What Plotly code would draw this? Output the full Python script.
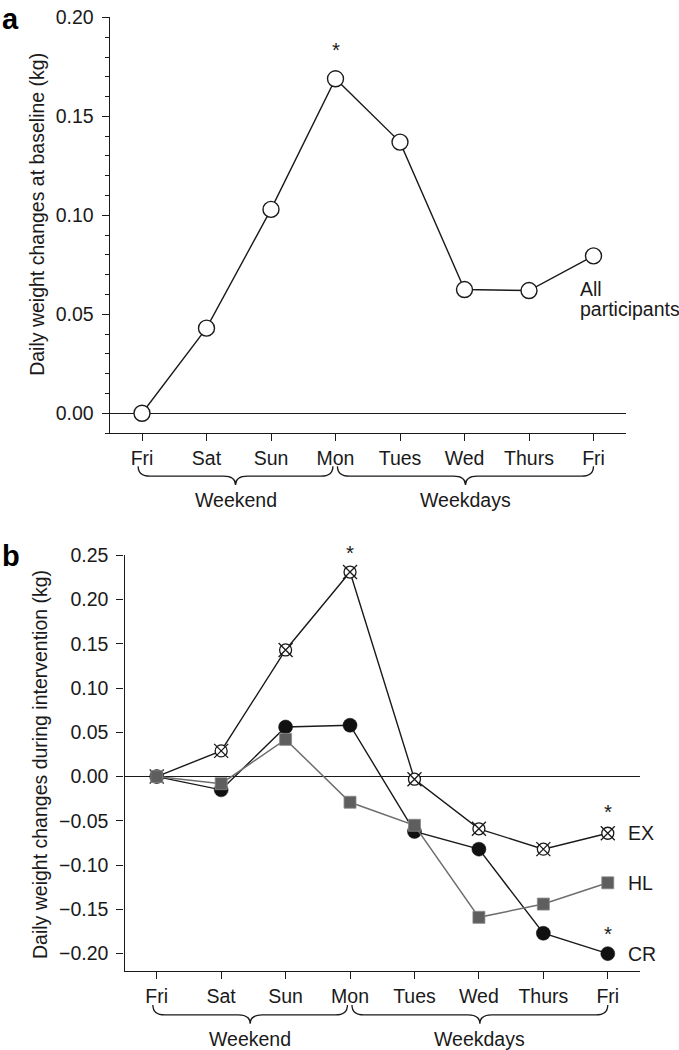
import plotly.graph_objects as go

# ---------------- data ----------------
days = ["Fri", "Sat", "Sun", "Mon", "Tues", "Wed", "Thurs", "Fri"]
all_participants = [0.000, 0.043, 0.103, 0.169, 0.137, 0.0625, 0.062, 0.0795]
ex_vals = [0.000, 0.029, 0.143, 0.231, -0.003, -0.059, -0.082, -0.064]
cr_vals = [0.000, -0.015, 0.056, 0.058, -0.062, -0.082, -0.177, -0.200]
hl_vals = [0.000, -0.008, 0.042, -0.029, -0.055, -0.159, -0.144, -0.120]
yticks_a = [0.00, 0.05, 0.10, 0.15, 0.20]
yticks_b = [-0.20, -0.15, -0.10, -0.05, 0.00, 0.05, 0.10, 0.15, 0.20, 0.25]
groups = [("Weekend", 0, 3), ("Weekdays", 3, 7)]

W, H = 679, 1050
FONT = "Liberation Sans, Arial, Helvetica, sans-serif"
INK = "#1a1a1a"
FS = 19.5


def px(x):
    return x / W


def py(y):
    return 1 - y / H


idx = list(range(len(days)))
XR = [-0.5, len(days) - 0.5]

fig = go.Figure()

# ---- panel a ----
fig.add_trace(go.Scatter(
    x=idx, y=all_participants, mode="lines+markers", xaxis="x", yaxis="y",
    line=dict(color=INK, width=1.4),
    marker=dict(symbol="circle", size=16, color="white", line=dict(color=INK, width=1.4)),
    showlegend=False, cliponaxis=False))

# ---- panel b ----
fig.add_trace(go.Scatter(
    x=idx, y=ex_vals, mode="lines+markers", xaxis="x2", yaxis="y2",
    line=dict(color=INK, width=1.4),
    marker=dict(symbol="circle", size=12, color="white", line=dict(color=INK, width=1.3)),
    showlegend=False, cliponaxis=False))
fig.add_trace(go.Scatter(
    x=idx, y=ex_vals, mode="markers", xaxis="x2", yaxis="y2",
    marker=dict(symbol="x-thin-open", size=14, color=INK, line=dict(color=INK, width=1.3)),
    showlegend=False, cliponaxis=False))
fig.add_trace(go.Scatter(
    x=idx, y=cr_vals, mode="lines+markers", xaxis="x2", yaxis="y2",
    line=dict(color=INK, width=1.4),
    marker=dict(symbol="circle", size=14, color="#111111", line=dict(color="#111111", width=0.5)),
    showlegend=False, cliponaxis=False))
fig.add_trace(go.Scatter(
    x=idx, y=hl_vals, mode="lines+markers", xaxis="x2", yaxis="y2",
    line=dict(color="#6e6e6e", width=1.5),
    marker=dict(symbol="square", size=12, color="#5e5e5e", line=dict(color="#8a8a8a", width=0.8)),
    showlegend=False, cliponaxis=False))

axis_common = dict(showline=True, linecolor=INK, linewidth=1.3, showgrid=False,
                   ticks="outside", ticklen=7, tickwidth=1.3, tickcolor=INK,
                   tickfont=dict(family=FONT, size=FS, color=INK))

fig.update_layout(
    width=W, height=H, margin=dict(l=0, r=0, t=0, b=0),
    paper_bgcolor="white", plot_bgcolor="white",
    font=dict(family=FONT, size=FS, color=INK),
    xaxis=dict(domain=[px(109.75), px(625.75)], range=XR, anchor="y",
               tickvals=idx, ticktext=days, zeroline=False, **axis_common),
    yaxis=dict(domain=[py(426.5), py(6.5)], range=[-0.01, 0.20], anchor="x",
               tickvals=yticks_a, tickformat=".2f", ticklabelstandoff=4,
               zeroline=True, zerolinecolor=INK, zerolinewidth=1.3,
               minor=dict(ticks="outside", ticklen=4, tickwidth=1.2, tickcolor=INK,
                          dtick=0.01, tick0=0, showgrid=False),
               **axis_common),
    xaxis2=dict(domain=[px(124.5), px(640)], range=XR, anchor="y2",
                tickvals=idx, ticktext=days, zeroline=False, **axis_common),
    yaxis2=dict(domain=[py(970.5), py(550)], range=[-0.22, 0.25], anchor="x2",
                tickvals=yticks_b, tickformat=".2f", ticklabelstandoff=4,
                zeroline=True, zerolinecolor=INK, zerolinewidth=1.3,
                **axis_common),
)


def frac(i):
    return (i - XR[0]) / (XR[1] - XR[0])


def brace(xref, i0, i1, ytop, ymid, ytip, dom_w):
    x0, x1 = frac(i0), frac(i1)
    xc = (x0 + x1) / 2
    r = 12.0 / dom_w
    yt, ym, yp = py(ytop), py(ymid), py(ytip)
    path = (f"M {x0},{yt} Q {x0},{ym} {x0 + r},{ym} L {xc - r},{ym} "
            f"Q {xc},{ym} {xc},{yp} Q {xc},{ym} {xc + r},{ym} "
            f"L {x1 - r},{ym} Q {x1},{ym} {x1},{yt}")
    return dict(type="path", path=path, xref=xref, yref="paper",
                line=dict(color=INK, width=1.3))


shapes = []
annotations = []
for (xr, axis_y, dom_w) in [("x", 426.0, 516.0), ("x2", 970.5, 515.5)]:
    for k, (name, a, b) in enumerate(groups):
        i0 = a - 0.06 if k == 0 else a + 0.03
        i1 = b - 0.04 if k == 0 else b
        shapes.append(brace(xr + " domain", i0, i1, axis_y + 34, axis_y + 44, axis_y + 53, dom_w))
        annotations.append(dict(text=name, x=(i0 + i1) / 2, xref=xr, y=py(axis_y + 68), yref="paper",
                                showarrow=False, xanchor="center", yanchor="middle",
                                font=dict(family=FONT, size=FS, color=INK)))

# significance asterisks
for xr, yr, i, vals, shift in [("x", "y", 3, all_participants, 29),
                               ("x2", "y2", 3, ex_vals, 20),
                               ("x2", "y2", 7, ex_vals, 22),
                               ("x2", "y2", 7, cr_vals, 20)]:
    annotations.append(dict(text="*", x=i, y=vals[i], xref=xr, yref=yr, yshift=shift,
                            showarrow=False, xanchor="center", yanchor="middle",
                            font=dict(family=FONT, size=FS + 1, color=INK)))

# series labels
for label, vals in [("EX", ex_vals), ("HL", hl_vals), ("CR", cr_vals)]:
    annotations.append(dict(text=label, x=7, y=vals[7], xref="x2", yref="y2", xshift=18,
                            showarrow=False, xanchor="left", yanchor="middle",
                            font=dict(family=FONT, size=FS, color=INK)))

annotations.append(dict(text="All", x=px(578), y=py(281), xref="paper", yref="paper",
                        showarrow=False, xanchor="left", yanchor="middle",
                        font=dict(family=FONT, size=FS, color=INK)))
annotations.append(dict(text="participants", x=px(578), y=py(301), xref="paper", yref="paper",
                        showarrow=False, xanchor="left", yanchor="middle",
                        font=dict(family=FONT, size=FS, color=INK)))

# axis titles
annotations.append(dict(text="Daily weight changes at baseline (kg)", x=px(37), y=py(206),
                        xref="paper", yref="paper", textangle=-90, showarrow=False,
                        xanchor="center", yanchor="middle",
                        font=dict(family=FONT, size=FS, color=INK)))
annotations.append(dict(text="Daily weight changes during intervention (kg)", x=px(40), y=py(762),
                        xref="paper", yref="paper", textangle=-90, showarrow=False,
                        xanchor="center", yanchor="middle",
                        font=dict(family=FONT, size=FS, color=INK)))

# panel letters
annotations.append(dict(text="<b>a</b>", x=0, y=py(8), xref="paper", yref="paper",
                        showarrow=False, xanchor="left", yanchor="middle",
                        font=dict(family=FONT, size=29, color="#000")))
annotations.append(dict(text="<b>b</b>", x=0, y=py(551), xref="paper", yref="paper",
                        showarrow=False, xanchor="left", yanchor="middle",
                        font=dict(family=FONT, size=29, color="#000")))

fig.update_layout(shapes=shapes, annotations=annotations)
fig.write_html("out.html", config={"displayModeBar": False},
               post_script="document.body.style.margin='0';document.body.style.padding='0';")
